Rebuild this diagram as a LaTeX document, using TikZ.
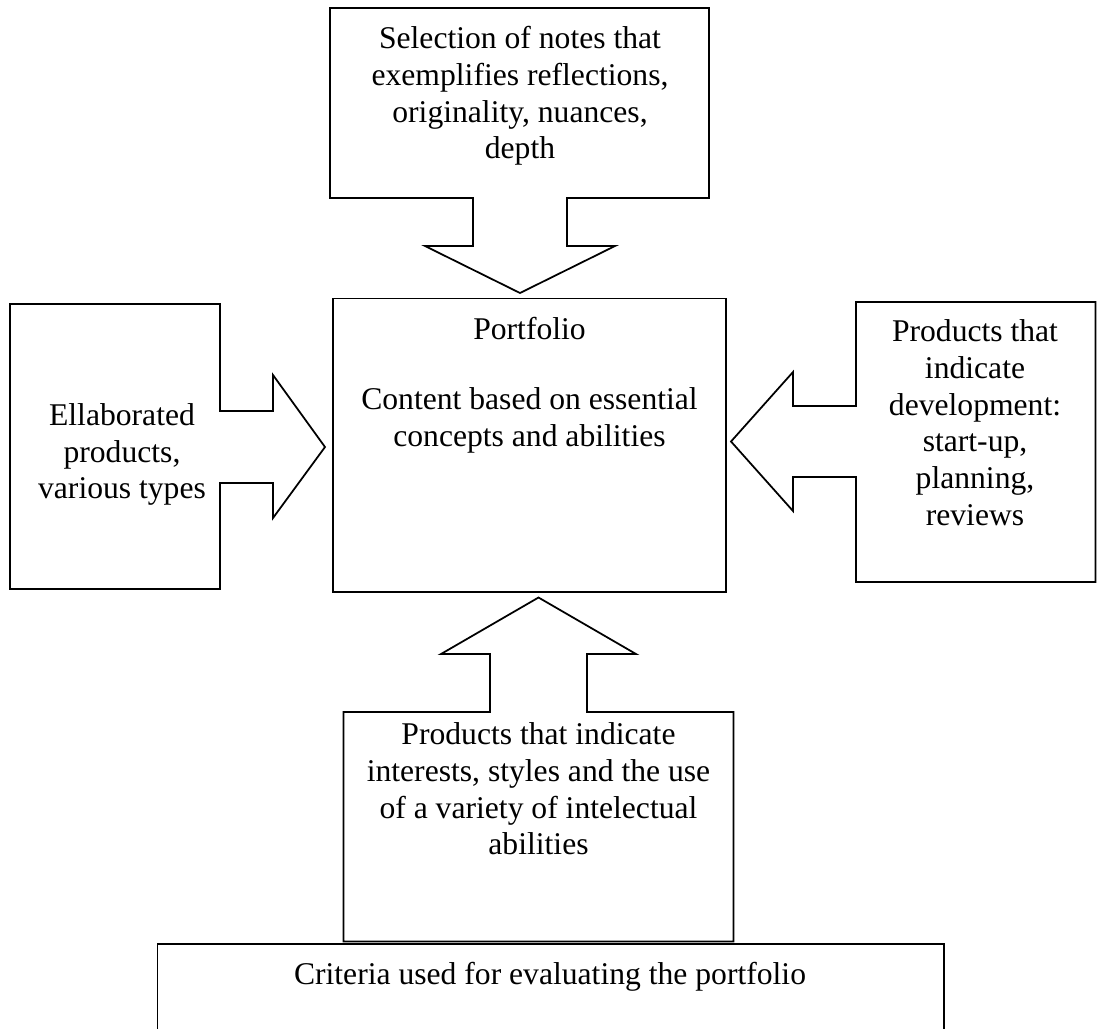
\documentclass[tikz,border=0pt]{standalone}
\usepackage{fontspec}
\setmainfont{Liberation Serif}

\begin{document}
\begin{tikzpicture}[
  x=0.02cm, y=-0.02cm,
  outline/.style={draw,line width=1pt,line join=miter},
  boxtext/.style={anchor=north,inner sep=0pt,align=center,
                  font=\fontsize{18}{20.9}\selectfont},
]
  \useasboundingbox (0,0) rectangle (1097,1028);

  % Top callout (pointing down)
  \draw[outline] (330,8) -- (709,8) -- (709,198) -- (567,198) -- (567,246) -- (615,246)
    -- (520,293) -- (425,246) -- (473,246) -- (473,198) -- (330,198) -- cycle;
  \node[boxtext] (notes) at (520,26)
    {Selection of notes that\\exemplifies reflections,\\originality, nuances,\\depth};

  % Left callout (pointing right)
  \draw[outline] (10,304) -- (220,304) -- (220,411) -- (273,411) -- (273,375)
    -- (325,447) -- (273,518) -- (273,483) -- (220,483) -- (220,589) -- (10,589) -- cycle;
  \node[boxtext] (elab) at (122,403) {Ellaborated\\products,\\various types};

  % Right callout (pointing left)
  \draw[outline] (1095.5,302) -- (856,302) -- (856,406) -- (793,406) -- (793,372)
    -- (731,441.5) -- (793,511) -- (793,477) -- (856,477) -- (856,582) -- (1095.5,582) -- cycle;
  \node[boxtext] (devel) at (975,319.5)
    {Products that\\indicate\\development:\\start-up,\\planning,\\reviews};

  % Portfolio
  \draw[outline] (333,298.5) rectangle (726,592);
  \node[boxtext] (portfolio) at (529.5,317)
    {Portfolio\\[19pt]Content based on essential\\concepts and abilities};

  % Bottom callout (pointing up)
  \draw[outline] (343.5,941.5) -- (343.5,712) -- (490,712) -- (490,654) -- (441,654)
    -- (538.5,597.5) -- (636,654) -- (587,654) -- (587,712) -- (733.5,712) -- (733.5,941.5) -- cycle;
  \node[boxtext] (interests) at (538.5,722.5)
    {Products that indicate\\interests, styles and the use\\of a variety of intelectual\\abilities};

  % Criteria
  \draw[outline] (157.5,944) rectangle (944,1040);
  \node[boxtext] (criteria) at (550,962) {Criteria used for evaluating the portfolio};
\end{tikzpicture}
\end{document}
